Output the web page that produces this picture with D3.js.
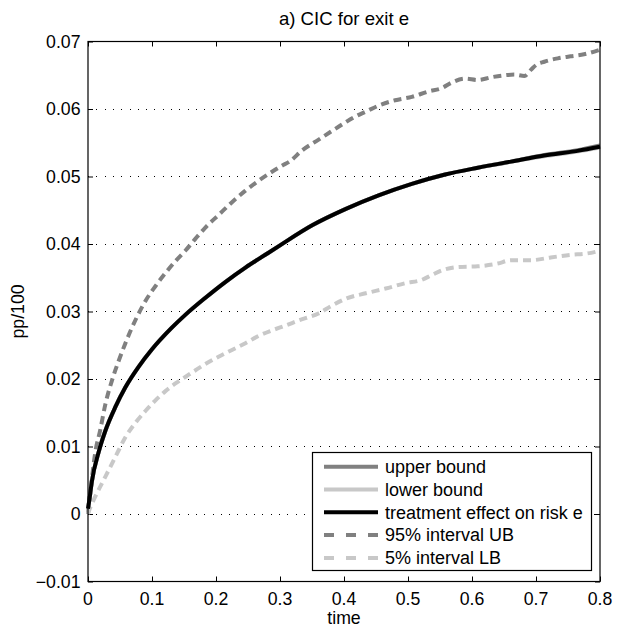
<!DOCTYPE html>
<html>
<head>
<meta charset="utf-8">
<script src="https://cdn.jsdelivr.net/npm/d3@7"></script>
<style>
  html, body { margin: 0; padding: 0; background: #fff; }
  text { font-family: "Liberation Sans", Arial, Helvetica, sans-serif; fill: #000; }
</style>
</head>
<body>
<svg id="chart" width="618" height="630"></svg>
<script>
const title = "a) CIC for exit e";
const xLabel = "time";
const yLabel = "pp/100";
const xTicks = [0, 0.1, 0.2, 0.3, 0.4, 0.5, 0.6, 0.7, 0.8];
const yTicks = [-0.01, 0, 0.01, 0.02, 0.03, 0.04, 0.05, 0.06, 0.07];
const legendLabels = ["upper bound", "lower bound", "treatment effect on risk e", "95% interval UB", "5% interval LB"];

// treatment effect on risk e
const teX = [0, 0.002, 0.006, 0.017, 0.027, 0.043, 0.058, 0.079, 0.1, 0.131, 0.152, 0.183, 0.215, 0.246, 0.277, 0.3, 0.351, 0.403, 0.454, 0.506, 0.558, 0.609, 0.661, 0.713, 0.765, 0.8];
const teY = [0.0008, 0.002, 0.0048, 0.0093, 0.0123, 0.0159, 0.0187, 0.0218, 0.0244, 0.0276, 0.0295, 0.032, 0.0344, 0.0365, 0.0384, 0.0398, 0.0428, 0.0452, 0.0472, 0.0489, 0.0503, 0.0513, 0.0522, 0.0531, 0.0538, 0.0544];
// upper / lower bounds (nearly coincide with the treatment effect)
const ubY = [0.0008, 0.002, 0.0048, 0.0093, 0.0123, 0.0159, 0.0187, 0.0218, 0.0244, 0.0276, 0.0295, 0.032, 0.0344, 0.0365, 0.0384, 0.0398, 0.0428, 0.0452, 0.0472, 0.0489, 0.0503, 0.0513, 0.0522, 0.0532, 0.0539, 0.0546];
const lbY = [0.0008, 0.002, 0.0048, 0.0093, 0.0123, 0.0159, 0.0187, 0.0218, 0.0244, 0.0276, 0.0295, 0.032, 0.0344, 0.0365, 0.0384, 0.0398, 0.0428, 0.0452, 0.0472, 0.0489, 0.0503, 0.0513, 0.0522, 0.0530, 0.0537, 0.0543];

// 95% interval UB
const ciuX = [0, 0.004, 0.0115, 0.019, 0.027, 0.0375, 0.048, 0.058, 0.074, 0.09, 0.105, 0.121, 0.136, 0.152, 0.168, 0.183, 0.204, 0.225, 0.246, 0.267, 0.2875, 0.303, 0.3146, 0.335, 0.361, 0.392, 0.418, 0.434, 0.454, 0.48, 0.506, 0.532, 0.553, 0.568, 0.589, 0.609, 0.63, 0.651, 0.666, 0.682, 0.692, 0.7, 0.713, 0.734, 0.754, 0.775, 0.8];
const ciuY = [0, 0.0035, 0.0092, 0.0124, 0.0162, 0.0198, 0.0227, 0.0252, 0.0287, 0.0316, 0.0337, 0.0357, 0.0374, 0.039, 0.0408, 0.0424, 0.0443, 0.0462, 0.0479, 0.0494, 0.0507, 0.0516, 0.0522, 0.0539, 0.0555, 0.0574, 0.0589, 0.0596, 0.0605, 0.0613, 0.0618, 0.0626, 0.0631, 0.0639, 0.0645, 0.0643, 0.0647, 0.065, 0.0651, 0.0649, 0.0658, 0.0665, 0.067, 0.0675, 0.0678, 0.0681, 0.0688];

// 5% interval LB
const cilX = [0, 0.001, 0.0115, 0.027, 0.043, 0.058, 0.074, 0.09, 0.105, 0.121, 0.136, 0.152, 0.168, 0.183, 0.204, 0.225, 0.246, 0.267, 0.2875, 0.308, 0.33, 0.36, 0.38, 0.403, 0.434, 0.465, 0.496, 0.522, 0.537, 0.553, 0.579, 0.609, 0.64, 0.661, 0.692, 0.723, 0.754, 0.78, 0.8];
const cilY = [0, 0.0003, 0.0026, 0.0055, 0.0085, 0.0113, 0.0135, 0.0153, 0.0168, 0.0182, 0.0193, 0.0203, 0.0213, 0.0222, 0.0233, 0.0243, 0.0253, 0.0264, 0.0272, 0.0279, 0.0287, 0.0297, 0.0308, 0.0319, 0.0327, 0.0334, 0.0342, 0.0347, 0.0354, 0.0361, 0.0366, 0.0367, 0.0371, 0.0376, 0.0376, 0.038, 0.0384, 0.0386, 0.039];

const M = { left: 88, right: 600, top: 41.5, bottom: 581.5 };
const svg = d3.select("#chart");
const x = d3.scaleLinear().domain([0, 0.8]).range([M.left, M.right]);
const y = d3.scaleLinear().domain([-0.01, 0.07]).range([M.bottom, M.top]);
const fmt = d3.format(".2~f");
const tickFmt = v => v === 0 ? "0" : (v < 0 ? "\u2212" + fmt(-v) : fmt(v));

// gridlines (horizontal only, dotted)
svg.append("g").selectAll("line").data(yTicks.filter(v => v > -0.01 && v < 0.07)).join("line")
  .attr("x1", M.left).attr("x2", M.right)
  .attr("y1", d => y(d)).attr("y2", d => y(d))
  .attr("stroke", "#000").attr("stroke-width", 1).attr("stroke-dasharray", "1,7.3")
  .attr("shape-rendering", "crispEdges");

// axes with inward ticks
const axB = d3.axisBottom(x).tickValues(xTicks).tickSize(-5).tickFormat("");
const axT = d3.axisTop(x).tickValues(xTicks).tickSize(-5).tickFormat("");
const axL = d3.axisLeft(y).tickValues(yTicks).tickSize(-5).tickFormat("");
const axR = d3.axisRight(y).tickValues(yTicks).tickSize(-5).tickFormat("");
function styleAxis(g) { g.select(".domain").remove(); g.selectAll("line").attr("stroke", "#000"); }
svg.append("g").attr("transform", `translate(0,${M.bottom})`).call(axB).call(styleAxis);
svg.append("g").attr("transform", `translate(0,${M.top})`).call(axT).call(styleAxis);
svg.append("g").attr("transform", `translate(${M.left},0)`).call(axL).call(styleAxis);
svg.append("g").attr("transform", `translate(${M.right},0)`).call(axR).call(styleAxis);

// tick labels
svg.append("g").selectAll("text").data(xTicks).join("text")
  .attr("x", d => x(d)).attr("y", 604.5).attr("text-anchor", "middle")
  .style("font-size", "17.7px").text(tickFmt);
svg.append("g").selectAll("text").data(yTicks).join("text")
  .attr("x", 80.5).attr("y", d => y(d) + 6.3).attr("text-anchor", "end")
  .style("font-size", "17.7px").text(tickFmt);

// lines
const line = d3.line().x(d => x(d[0])).y(d => y(d[1])).curve(d3.curveMonotoneX);
function series(xs, ys) { return xs.map((v, i) => [v, ys[i]]); }
const plot = svg.append("g");
const styles = [
  { data: series(teX, ubY), color: "#808080", dash: null },
  { data: series(teX, lbY), color: "#c8c8c8", dash: null },
  { data: series(teX, teY), color: "#000000", dash: null },
  { data: series(ciuX, ciuY), color: "#808080", dash: "8,5" },
  { data: series(cilX, cilY), color: "#c8c8c8", dash: "8,5" }
];
[3, 4, 0, 1, 2].forEach(i => {
  const s = styles[i];
  plot.append("path").datum(s.data).attr("d", line)
    .attr("fill", "none").attr("stroke", s.color).attr("stroke-width", 4)
    .attr("stroke-dasharray", s.dash).attr("stroke-linejoin", "round");
});

// box
svg.append("rect").attr("x", M.left).attr("y", M.top)
  .attr("width", M.right - M.left).attr("height", M.bottom - M.top)
  .attr("fill", "none").attr("stroke", "#000").attr("stroke-width", 1.2);

// legend
const lg = svg.append("g");
lg.append("rect").attr("x", 312.5).attr("y", 452.5).attr("width", 279).attr("height", 118)
  .attr("fill", "#fff").attr("stroke", "#000").attr("stroke-width", 1.2);
const rowY = [466.7, 489.5, 512.3, 535.1, 557.9];
legendLabels.forEach((lab, i) => {
  const s = styles[i];
  lg.append("line").attr("x1", 324).attr("x2", 378).attr("y1", rowY[i]).attr("y2", rowY[i])
    .attr("stroke", s.color).attr("stroke-width", 4)
    .attr("stroke-dasharray", s.dash ? "10,12" : null);
  lg.append("text").attr("x", 385).attr("y", rowY[i] + 6.3)
    .style("font-size", "18px").text(lab);
});

// title and labels
svg.append("text").attr("x", (M.left + M.right) / 2).attr("y", 25).attr("text-anchor", "middle")
  .style("font-size", "18.6px").text(title);
svg.append("text").attr("x", (M.left + M.right) / 2).attr("y", 624).attr("text-anchor", "middle")
  .style("font-size", "17.7px").text(xLabel);
svg.append("text").attr("transform", `translate(24,${(M.top + M.bottom) / 2}) rotate(-90)`)
  .attr("text-anchor", "middle").style("font-size", "17.7px").text(yLabel);
</script>
</body>
</html>
